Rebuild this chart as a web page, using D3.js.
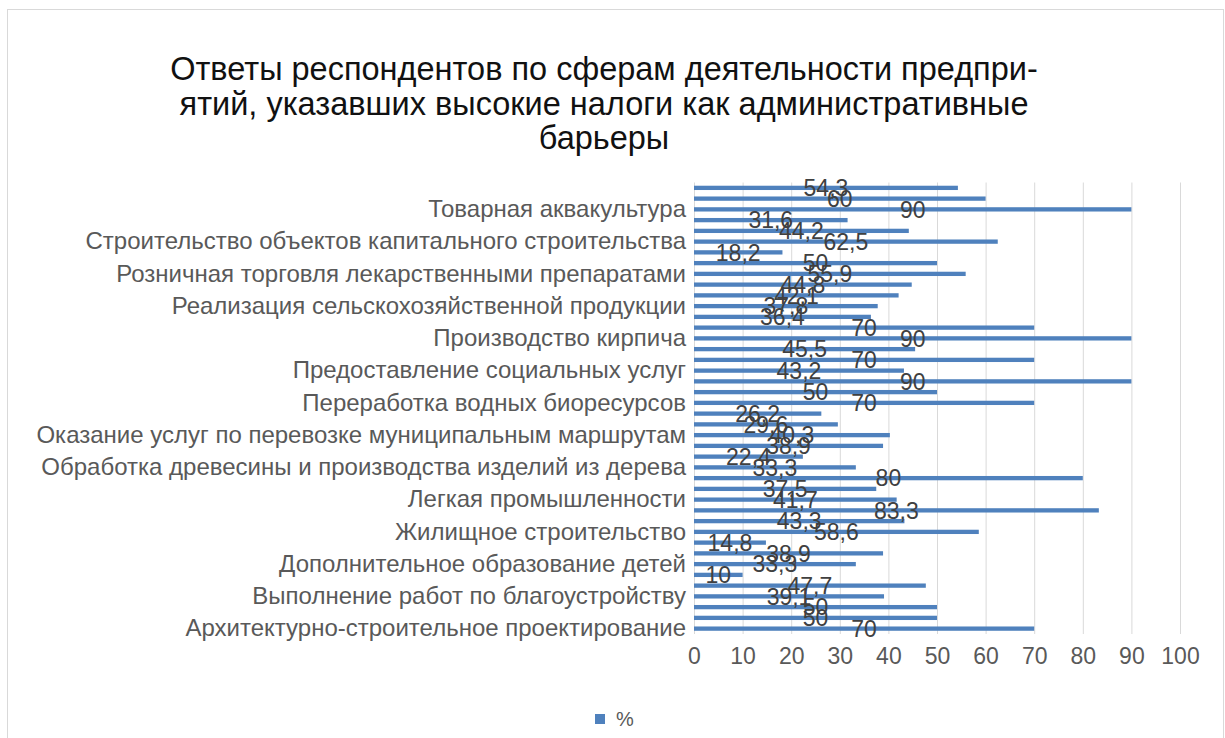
<!DOCTYPE html>
<html>
<head>
<meta charset="utf-8">
<script src="https://cdn.jsdelivr.net/npm/d3@7"></script>
<style>
  body { margin: 0; background: #fff; }
  svg { display: block; font-family: "Liberation Sans", Arial, sans-serif; }
</style>
</head>
<body>
<svg id="chart" width="1225" height="738"></svg>
<script>
// categories top to bottom; only every third one carries a visible label
var categories = [
    '', '', 'Товарная аквакультура',
    '', '', 'Строительство объектов капитального строительства',
    '', '', 'Розничная торговля лекарственными препаратами',
    '', '', 'Реализация сельскохозяйственной продукции',
    '', '', 'Производство кирпича',
    '', '', 'Предоставление социальных услуг',
    '', '', 'Переработка водных биоресурсов',
    '', '', 'Оказание услуг по перевозке муниципальным маршрутам',
    '', '', 'Обработка древесины и производства изделий из дерева',
    '', '', 'Легкая промышленности',
    '', '', 'Жилищное строительство',
    '', '', 'Дополнительное образование детей',
    '', '', 'Выполнение работ по благоустройству',
    '', '', 'Архитектурно-строительное проектирование'
];

var values = [
    54.3, 60, 90, 31.6, 44.2, 62.5, 18.2, 50, 55.9, 44.8, 42.1,
    37.8, 36.4, 70, 90, 45.5, 70, 43.2, 90, 50, 70,
    26.2, 29.6, 40.3, 38.9, 22.4, 33.3, 80, 37.5, 41.7, 83.3,
    43.3, 58.6, 14.8, 38.9, 33.3, 10, 47.7, 39.1, 50, 50, 70
];

var xTicks = [ 0, 10, 20, 30, 40, 50, 60, 70, 80, 90, 100 ];

var titleLines = [
    'Ответы респондентов по сферам деятельности предпри-',
    'ятий, указавших высокие налоги как административные',
    'барьеры'
];

var seriesName = '%';

var svg = d3.select( '#chart' ),
    margin = { top: 182.5, right: 45, bottom: 104, left: 694 },
    width = 1225 - margin.left - margin.right,
    height = 738 - margin.top - margin.bottom,
    barColor = '#4f81bd';

// chart border
svg.append( 'rect' )
    .attr( 'x', 7.5 ).attr( 'y', 9.5 )
    .attr( 'width', 1216 ).attr( 'height', 740 )
    .attr( 'fill', 'none' )
    .attr( 'stroke', '#d9d9d9' );

// title
svg.append( 'text' )
    .attr( 'text-anchor', 'middle' )
    .attr( 'font-size', 32.5 )
    .attr( 'fill', '#111' )
    .selectAll( 'tspan' )
    .data( titleLines )
    .join( 'tspan' )
    .attr( 'x', 604 )
    .attr( 'y', function( d, i ) { return 80 + i * 34.5; } )
    .text( function( d ) { return d; } );

var g = svg.append( 'g' ).attr( 'transform', 'translate(' + margin.left + ',' + margin.top + ')' );

var x = d3.scaleLinear().domain( [ 0, 100 ] ).range( [ 0, width ] );
var y = d3.scaleBand()
    .domain( d3.range( categories.length ) )
    .range( [ 0, height ] )
    .paddingInner( 0.6 )
    .paddingOuter( 0.3 );

// gridlines
g.append( 'g' )
    .selectAll( 'line' )
    .data( xTicks )
    .join( 'line' )
    .attr( 'x1', function( d ) { return x( d ) + 0.5; } )
    .attr( 'x2', function( d ) { return x( d ) + 0.5; } )
    .attr( 'y1', 0 )
    .attr( 'y2', height )
    .attr( 'stroke', '#d9d9d9' );

// x axis labels
var xAxis = g.append( 'g' )
    .attr( 'transform', 'translate(0,' + height + ')' )
    .call( d3.axisBottom( x ).tickValues( xTicks ).tickSize( 0 ).tickPadding( 14 ) );
xAxis.select( '.domain' ).remove();
xAxis.selectAll( 'text' )
    .attr( 'font-size', 23 )
    .attr( 'font-family', '"Liberation Sans", Arial, sans-serif' )
    .attr( 'fill', '#595959' );

// category labels
var yAxis = g.append( 'g' )
    .call( d3.axisLeft( y ).tickSize( 0 ).tickPadding( 8 ).tickFormat( function( i ) { return categories[ i ]; } ) );
yAxis.select( '.domain' ).remove();
yAxis.selectAll( 'text' )
    .attr( 'font-size', 24 )
    .attr( 'font-family', '"Liberation Sans", Arial, sans-serif' )
    .attr( 'fill', '#595959' );

// bars
g.append( 'g' )
    .selectAll( 'rect' )
    .data( values )
    .join( 'rect' )
    .attr( 'x', 0 )
    .attr( 'y', function( d, i ) { return y( i ); } )
    .attr( 'width', function( d ) { return x( d ); } )
    .attr( 'height', y.bandwidth() )
    .attr( 'fill', barColor );

// data labels, centred on each bar
var fmt = function( v ) { return String( v ).replace( '.', ',' ); };
g.append( 'g' )
    .selectAll( 'text' )
    .data( values )
    .join( 'text' )
    .attr( 'x', function( d ) { return x( d / 2 ); } )
    .attr( 'y', function( d, i ) { return y( i ) + y.bandwidth() / 2; } )
    .attr( 'dy', '0.36em' )
    .attr( 'text-anchor', 'middle' )
    .attr( 'font-size', 23 )
    .attr( 'fill', '#404040' )
    .text( fmt );

// legend
var legend = svg.append( 'g' ).attr( 'transform', 'translate(595,714)' );
legend.append( 'rect' )
    .attr( 'width', 10 ).attr( 'height', 10 )
    .attr( 'fill', barColor );
legend.append( 'text' )
    .attr( 'x', 21 ).attr( 'y', 5 )
    .attr( 'dy', '0.36em' )
    .attr( 'font-size', 20 )
    .attr( 'fill', '#595959' )
    .text( seriesName );
</script>
</body>
</html>
